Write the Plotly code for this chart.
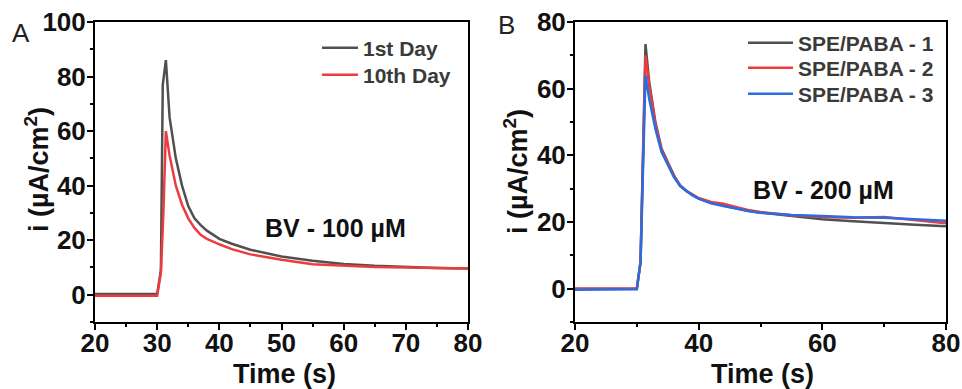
import plotly.graph_objects as go

# ---- Panel A: BV 100 uM, stability over days ----
t_day1 = [20, 30, 30.6, 30.9, 31.4, 32, 33, 34, 35, 36, 37, 38, 40, 42, 45, 50, 55, 60, 65, 70, 75, 80]
i_day1 = [0.3, 0.3, 9, 77, 86, 65, 50, 40, 32.5, 28, 25.5, 23.5, 20.5, 18.7, 16.5, 14.0, 12.5, 11.3, 10.6, 10.1, 9.8, 9.6]
t_day10 = [20, 30, 30.6, 31.0, 31.4, 32, 33, 34, 35, 36, 37, 38, 40, 42, 45, 50, 55, 60, 65, 70, 75, 80]
i_day10 = [-0.4, -0.4, 8, 30, 60, 51, 40, 33, 28, 24.5, 22, 20.5, 18.5, 16.7, 14.8, 12.8, 11.2, 10.6, 10.2, 10.0, 9.8, 9.6]
names_a = ["1st Day", "10th Day"]

# ---- Panel B: BV 200 uM, three electrodes ----
t_b = [20, 30, 30.6, 31.4, 32, 33, 34, 35, 36, 37, 38, 39, 40, 42, 44, 46, 48, 50, 55, 60, 65, 70, 75, 80]
i_paba1 = [0, 0, 8, 73.4, 62, 50, 42, 38, 34, 31, 29.3, 28.2, 27, 25.8, 25, 24, 23.4, 22.8, 21.8, 20.8, 20.2, 19.6, 19.2, 18.7]
i_paba2 = [0, 0, 8, 70, 61, 49.5, 41.5, 37.5, 33.8, 31, 29.3, 28.2, 27.2, 26, 25.5, 24.5, 23.6, 23, 22, 21.5, 21.3, 21.5, 20.5, 19.6]
i_paba3 = [-0.3, -0.2, 8, 64, 57, 48, 41, 37, 33.5, 30.8, 29.3, 28, 27, 25.6, 24.8, 24, 23.3, 22.8, 22.1, 21.8, 21.4, 21.3, 20.8, 20.4]
names_b = ["SPE/PABA - 1", "SPE/PABA - 2", "SPE/PABA - 3"]

ticks_a_x = [20, 30, 40, 50, 60, 70, 80]
ticks_a_y = [0, 20, 40, 60, 80, 100]
ticks_b_x = [20, 40, 60, 80]
ticks_b_y = [0, 20, 40, 60, 80]

GRAY = "#505050"
RED = "#ee3b3f"
BLUE = "#2b6ddf"
FONT = "Liberation Sans, Arial, sans-serif"
W, H = 962, 389

def px(x):
    return x / W

def py(y):
    return 1 - y / H

# one legend per entry so each row sits exactly where it should: (left, centre y, item width)
legend_font = dict(family=FONT, size=21, color="#3a3a3a", weight="bold")
legend_slots = {
    "legend": (317, 48, 36),
    "legend2": (317, 75, 36),
    "legend3": (743, 43, 45),
    "legend4": (743, 68, 45),
    "legend5": (743, 94, 45),
}

fig = go.Figure()
fig.add_trace(go.Scatter(x=t_day1, y=i_day1, name=names_a[0], mode="lines",
                         line=dict(color=GRAY, width=2.5), xaxis="x", yaxis="y", legend="legend"))
fig.add_trace(go.Scatter(x=t_day10, y=i_day10, name=names_a[1], mode="lines",
                         line=dict(color=RED, width=2.5), xaxis="x", yaxis="y", legend="legend2"))
for vals, nm, col, lg in zip([i_paba1, i_paba2, i_paba3], names_b, [GRAY, RED, BLUE],
                             ["legend3", "legend4", "legend5"]):
    fig.add_trace(go.Scatter(x=t_b, y=vals, name=nm, mode="lines",
                             line=dict(color=col, width=2.5), xaxis="x2", yaxis="y2", legend=lg))

tickfont = dict(family=FONT, size=26, color="#111111", weight="bold")
axis_common = dict(showline=True, linecolor="black", linewidth=2, mirror=True,
                   ticks="outside", ticklen=6, tickwidth=2, tickcolor="black",
                   showgrid=False, zeroline=False, tickfont=tickfont)
minor_common = dict(ticks="outside", ticklen=3, tickwidth=2, tickcolor="black", showgrid=False)

ydom = [py(322), py(22)]
layout = dict(
    width=W, height=H,
    margin=dict(l=0, r=0, t=0, b=0, autoexpand=False),
    paper_bgcolor="white", plot_bgcolor="white",
    xaxis=dict(domain=[px(95), px(468)], range=[20, 80], tickvals=ticks_a_x, anchor="y",
               ticklabelstandoff=-9,
               minor=dict(dtick=5, tick0=20, **minor_common), **axis_common),
    yaxis=dict(domain=ydom, range=[-10, 100], tickvals=ticks_a_y, anchor="x",
               ticklabelstandoff=-4,
               minor=dict(dtick=10, tick0=0, **minor_common), **axis_common),
    xaxis2=dict(domain=[px(575), px(946)], range=[20, 80], tickvals=ticks_b_x, anchor="y2",
                ticklabelstandoff=-9,
                minor=dict(dtick=10, tick0=20, **minor_common), **axis_common),
    yaxis2=dict(domain=ydom, range=[-10, 80], tickvals=ticks_b_y, anchor="x2",
                ticklabelstandoff=-4,
                minor=dict(dtick=10, tick0=0, **minor_common), **axis_common),
    showlegend=True,
)
for key, (lx, ly, iw) in legend_slots.items():
    layout[key] = dict(x=px(lx), y=py(ly), xanchor="left", yanchor="middle", itemwidth=iw,
                       bgcolor="rgba(0,0,0,0)", font=legend_font)
fig.update_layout(**layout)

title_font = dict(family=FONT, size=27, color="#111111", weight="bold")
ann = [
    dict(text="Time (s)", x=px(284), y=py(374), font=title_font),
    dict(text="Time (s)", x=px(762), y=py(374), font=title_font),
    dict(text="i (µA/cm<sup>2</sup>)", x=px(37), y=py(170), textangle=-90, font=title_font),
    dict(text="i (µA/cm<sup>2</sup>)", x=px(516), y=py(172), textangle=-90, font=title_font),
    dict(text="BV - 100 µM", x=px(335), y=py(228), font=dict(family=FONT, size=25, color="#111111", weight="bold")),
    dict(text="BV - 200 µM", x=px(823), y=py(190), font=dict(family=FONT, size=25, color="#111111", weight="bold")),
    dict(text="A", x=px(21), y=py(33), font=dict(family=FONT, size=26, color="#222222")),
    dict(text="B", x=px(507), y=py(25), font=dict(family=FONT, size=26, color="#222222")),
]
for a in ann:
    fig.add_annotation(xref="paper", yref="paper", showarrow=False,
                       xanchor="center", yanchor="middle", **a)

fig.write_html("out.html")
